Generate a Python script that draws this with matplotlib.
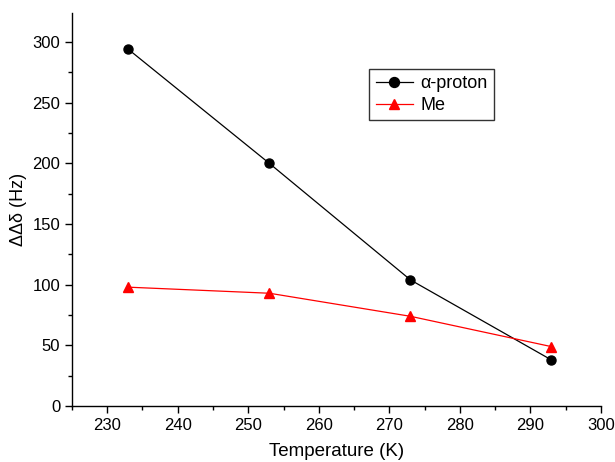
import matplotlib
matplotlib.use("Agg")
import matplotlib.pyplot as plt
from matplotlib.ticker import MultipleLocator

plt.rcParams['font.family'] = ['Liberation Sans', 'DejaVu Sans']

temperature = [233, 253, 273, 293]
alpha_proton = [294, 200, 104, 38]
methyl = [98, 93, 74, 49]

fig = plt.figure(figsize=(6.15, 4.62), dpi=100)
ax = fig.add_axes([0.117, 0.121, 0.860, 0.851])

ax.plot(temperature, alpha_proton, color='black', lw=0.9, marker='o', ms=6.5,
        label='\u03b1-proton')
ax.plot(temperature, methyl, color='red', lw=0.9, marker='^', ms=7,
        label='Me')

ax.set_xlim(225, 300)
ax.set_ylim(0, 324)
ax.xaxis.set_major_locator(MultipleLocator(10))
ax.xaxis.set_minor_locator(MultipleLocator(5))
ax.yaxis.set_major_locator(MultipleLocator(50))
ax.yaxis.set_minor_locator(MultipleLocator(25))

for side in ('top', 'right'):
    ax.spines[side].set_visible(False)
for side in ('left', 'bottom'):
    ax.spines[side].set_linewidth(1.0)

ax.tick_params(which='major', direction='out', length=5, width=1, labelsize=12)
ax.tick_params(which='minor', direction='out', length=3, width=1)

ax.set_xlabel('Temperature (K)', fontsize=13.5, labelpad=7)
ax.set_ylabel('\u0394\u0394\u03b4 (Hz)', fontsize=13)

leg = ax.legend(loc='upper left', bbox_to_anchor=(0.562, 0.857), fontsize=13,
                frameon=True, fancybox=False, edgecolor='black',
                handlelength=2.1, borderpad=0.35, labelspacing=0.25,
                handletextpad=0.4, borderaxespad=0, markerscale=1.1)
leg.get_frame().set_linewidth(1.0)

fig.savefig('out.png', dpi=100)
